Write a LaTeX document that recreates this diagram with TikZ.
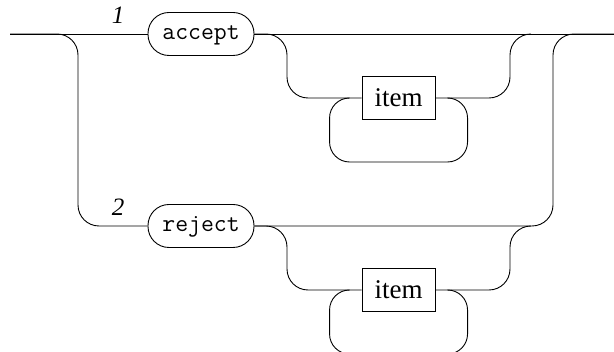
\documentclass[tikz,border=0pt]{standalone}
\usepackage{fontspec}
\setmainfont{Liberation Serif}
\tikzset{
  term/.style={draw,rounded corners=21pt,minimum width=106pt,minimum height=43pt,
    inner sep=0pt,font=\fontsize{25}{27}\ttfamily},
  nonterm/.style={draw,minimum width=73pt,minimum height=43pt,inner sep=0pt,
    font=\fontsize{27}{29}\selectfont},
  rail/.style={rounded corners=21pt},
  num/.style={font=\fontsize{25}{27}\itshape}
}
\begin{document}
\begin{tikzpicture}[x=1pt,y=1pt,line width=0.9pt]
   \useasboundingbox (0,0) rectangle (614,352);
   \coordinate (in) at (10,318);
   \coordinate (out) at (614,318);
   \foreach \i/\w/\y in
     { 1/accept/318,
       2/reject/126
     }
   {
     \node[term] (t\i) at (201,\y) {\strut\w};
     \node[num] (l\i) at (118,\y+19) {\i};
     \node[nonterm] (n\i) at (398.5,\y-64) {item};
     \draw[rail] (t\i.east) -- (287,\y) |- (n\i.west);
     \draw[rail] (n\i.east) -| (510,\y) -- (531,\y);
     \draw[rounded corners=20pt] ([xshift=-12pt]n\i.west) -- ++(-20,0)
        |- ++(138,-64) |- ([xshift=12pt]n\i.east);
   }
   \draw (in) -- (t1.west);
   \draw (t1.east) -- (out);
   \draw[rail] (in) -- (78,318) |- (t2.west);
   \draw[rail] (t2.east) -- (553,126) |- (out);
\end{tikzpicture}
\end{document}
